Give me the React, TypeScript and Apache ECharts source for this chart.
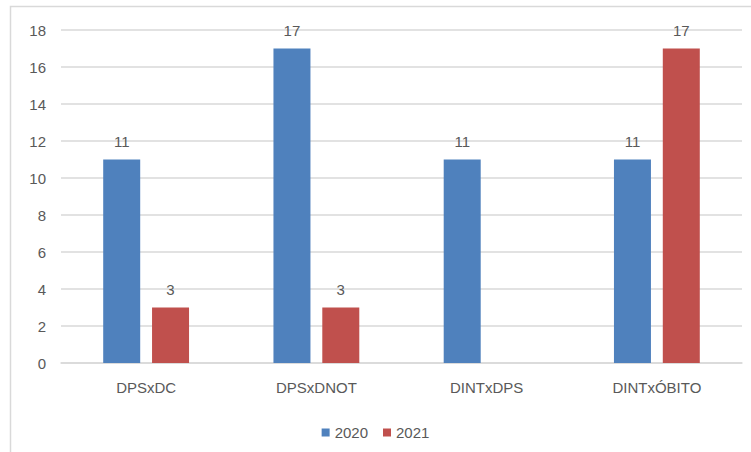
import React, { useEffect, useRef } from "react";
import * as echarts from "echarts";

const categories = ["DPSxDC", "DPSxDNOT", "DINTxDPS", "DINTxÓBITO"];
const series2020 = [11, 17, 11, 11];
const series2021: (number | null)[] = [3, 3, null, 17];
const seriesNames = ["2020", "2021"];

const FONT = "Liberation Sans, Arial, sans-serif";
const TEXT = "#595959";
const FS = 15;

export default function App() {
  const ref = useRef<HTMLDivElement>(null);
  useEffect(() => {
    if (!ref.current) return;
    const chart = echarts.init(ref.current, null, { renderer: "svg" });
    chart.setOption({
      animation: false,
      backgroundColor: "#ffffff",
      textStyle: { fontFamily: FONT },
      graphic: [
        {
          type: "rect",
          shape: { x: 10.5, y: 6.5, width: 800, height: 500 },
          style: { fill: "none", stroke: "#d9d9d9", lineWidth: 1.5 },
          silent: true,
        },
      ],
      grid: { left: 61, right: 9, top: 30, bottom: 89, containLabel: false },
      legend: {
        data: seriesNames,
        top: 420,
        left: "center",
        itemWidth: 8,
        itemHeight: 8,
        itemGap: 15,
        icon: "rect",
        textStyle: { color: TEXT, fontSize: FS, fontFamily: FONT },
      },
      xAxis: {
        type: "category",
        data: categories,
        axisLine: { show: true, lineStyle: { color: "#d9d9d9", width: 1.5 } },
        axisTick: { show: false },
        axisLabel: { color: TEXT, fontSize: FS, margin: 17, fontFamily: FONT },
      },
      yAxis: {
        type: "value",
        min: 0,
        max: 18,
        interval: 2,
        axisLine: { show: false },
        axisTick: { show: false },
        axisLabel: { color: TEXT, fontSize: FS, margin: 15, fontFamily: FONT },
        splitLine: { lineStyle: { color: "#d9d9d9", width: 1.5 } },
      },
      series: [
        {
          name: seriesNames[0],
          type: "bar",
          data: series2020,
          barWidth: 37,
          barGap: "32%",
          itemStyle: { color: "#4f81bd" },
          label: {
            show: true,
            position: "top",
            distance: 11,
            color: TEXT,
            fontSize: FS,
            fontFamily: FONT,
          },
        },
        {
          name: seriesNames[1],
          type: "bar",
          data: series2021,
          barWidth: 37,
          itemStyle: { color: "#c0504d" },
          label: {
            show: true,
            position: "top",
            distance: 11,
            color: TEXT,
            fontSize: FS,
            fontFamily: FONT,
          },
        },
      ],
    });
    return () => chart.dispose();
  }, []);
  return (
    <div
      ref={ref}
      style={{ position: "fixed", left: 0, top: 0, width: 751, height: 452 }}
    />
  );
}
